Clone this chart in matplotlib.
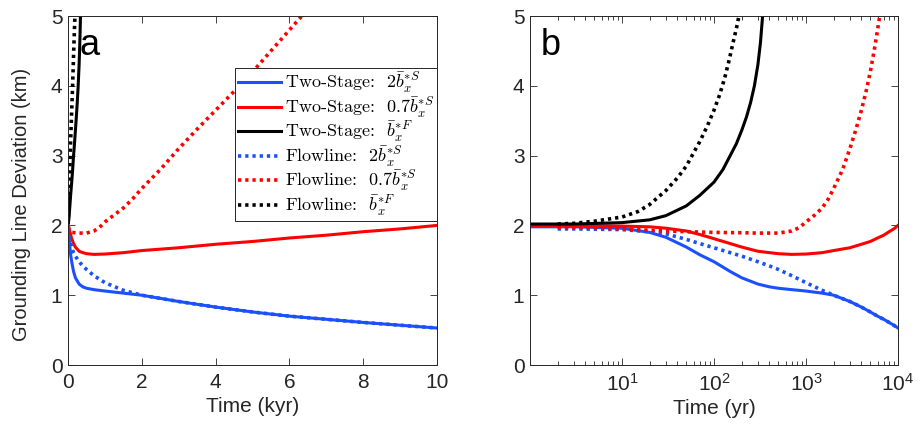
"""
Grounding line deviation: two-stage model vs flowline model,
linear time (kyr) on the left, log time (yr) on the right.
"""

import matplotlib
matplotlib.use("Agg")
import matplotlib.pyplot as plt

plt.rcParams["font.family"] = ["Liberation Sans", "DejaVu Sans"]
plt.rcParams["mathtext.fontset"] = "cm"

# time axes (yr)
t_main = [1, 3, 10, 20, 30, 50, 70, 100, 150, 200, 300, 400, 500, 700,
          1000, 1500, 2000, 3000, 4000, 5000, 6000, 7000, 8000, 9000, 10000]
t_flow = [2, 3, 10, 20, 30, 50, 70, 100, 150, 200, 300, 400, 500, 700,
          1000, 1500, 2000, 3000, 4000, 5000, 6000, 7000, 8000, 9000, 10000]
t_ts_black = [1, 3, 10, 20, 30, 50, 70, 100, 125, 150, 175, 200, 225, 250,
              275, 300, 320, 340]
t_fl_black = [2, 3, 5, 10, 15, 20, 30, 40, 50, 70, 85, 100, 115, 130, 145,
              160, 175, 190]
t_fl_red = [2, 3, 10, 20, 30, 50, 70, 100, 200, 300, 500, 700, 850,
            1000, 1250, 1500, 1750, 2000, 2500, 3000, 3500, 4000, 4500,
            5000, 5500, 6000, 6500]

# grounding line deviation (km)
ts_blue = [1.98, 1.98, 1.96, 1.90, 1.83, 1.69, 1.58, 1.48, 1.34, 1.25, 1.16, 1.12,
           1.10, 1.08, 1.06, 1.03, 1.00, 0.91, 0.83, 0.76, 0.70, 0.655, 0.61, 0.57, 0.53]
ts_red = [2.00, 2.00, 1.99, 1.98, 1.96, 1.92, 1.87, 1.81, 1.74, 1.69, 1.63, 1.61,
          1.595, 1.585, 1.59, 1.61, 1.64, 1.68, 1.73, 1.77, 1.82, 1.86, 1.91, 1.95, 2.00]
ts_black = [2.02, 2.02, 2.04, 2.08, 2.14, 2.28, 2.43, 2.62, 2.80, 3.00, 3.17, 3.36,
            3.55, 3.76, 4.00, 4.30, 4.62, 5.05]
fl_blue = [1.95, 1.95, 1.94, 1.91, 1.88, 1.80, 1.74, 1.68, 1.61, 1.56, 1.48, 1.42,
           1.37, 1.28, 1.18, 1.07, 1.00, 0.91, 0.83, 0.76, 0.70, 0.655, 0.61, 0.57, 0.53]
fl_red = [1.97, 1.97, 1.95, 1.93, 1.92, 1.91, 1.905, 1.90, 1.895, 1.89, 1.89, 1.92,
          1.97, 2.05, 2.15, 2.25, 2.38, 2.53, 2.80, 3.10, 3.38, 3.65, 3.92,
          4.20, 4.50, 4.80, 5.10]
fl_black = [2.02, 2.03, 2.06, 2.12, 2.20, 2.30, 2.50, 2.68, 2.85, 3.20, 3.43, 3.65,
            3.87, 4.10, 4.35, 4.60, 4.82, 5.05]

labels = [
    r"Two-Stage:  $2\bar{b}_x^{*S}$",
    r"Two-Stage:  $0.7\bar{b}_x^{*S}$",
    r"Two-Stage:  $\bar{b}_x^{*F}$",
    r"Flowline:  $2\bar{b}_x^{*S}$",
    r"Flowline:  $0.7\bar{b}_x^{*S}$",
    r"Flowline:  $\bar{b}_x^{*F}$",
]

BLUE = "#1a50ff"
RED = "#ff0000"
BLACK = "#000000"
DOT = (0, (0.9, 1.1))
INK = "#262626"

series = [
    (t_main, ts_blue, BLUE, "-"),
    (t_main, ts_red, RED, "-"),
    (t_ts_black, ts_black, BLACK, "-"),
    (t_flow, fl_blue, BLUE, DOT),
    (t_fl_red, fl_red, RED, DOT),
    (t_fl_black, fl_black, BLACK, DOT),
]

fig = plt.figure(figsize=(9.23, 4.33), dpi=100)
ax1 = fig.add_axes([0.0737, 0.157, 0.3998, 0.806])
ax2 = fig.add_axes([0.5742, 0.157, 0.3987, 0.806])

for (t, y, c, ls), lab in zip(series, labels):
    lw = 2.2 if ls == "-" else 2.6
    ax1.plot([v / 1000 for v in t], y, color=c, ls=ls, lw=lw, label=lab)
    ax2.plot(t, y, color=c, ls=ls, lw=lw)

ax1.set_xlim(0, 10)
ax1.set_xticks([0, 2, 4, 6, 8, 10])
ax1.set_xlabel("Time (kyr)", fontsize=15, color=INK, labelpad=3)
ax1.set_ylabel("Grounding Line Deviation (km)", fontsize=14.5, color=INK)
ax1.yaxis.set_label_coords(-0.1, 0.46)

ax2.set_xscale("log")
ax2.set_xlim(1, 1e4)
ax2.set_xticks([10, 100, 1000, 10000])
ax2.set_xticklabels([r"$\mathdefault{10^{1}}$", r"$\mathdefault{10^{2}}$",
                     r"$\mathdefault{10^{3}}$", r"$\mathdefault{10^{4}}$"])
ax2.set_xlabel("Time (yr)", fontsize=15, color=INK, labelpad=3)

for ax, tag in ((ax1, "a"), (ax2, "b")):
    ax.set_ylim(0, 5)
    ax.set_yticks([0, 1, 2, 3, 4, 5])
    ax.tick_params(direction="in", top=True, right=True, length=5, width=0.6,
                   labelsize=15, colors=INK)
    ax.tick_params(axis="x", pad=6)
    ax.tick_params(axis="y", pad=4)
    ax.tick_params(which="minor", direction="in", top=True, length=3, width=0.6, colors=INK)
    for sp in ax.spines.values():
        sp.set_color(INK)
        sp.set_linewidth(0.7)
    ax.text(0.03, 0.965, tag, transform=ax.transAxes, fontsize=26, va="top", ha="left")

leg = ax1.legend(loc="upper right", bbox_to_anchor=(1.0, 0.851), borderaxespad=0,
                 prop={"family": "cmr10", "size": 13}, handlelength=2.4,
                 handletextpad=0.2, labelspacing=0.0, borderpad=0.15,
                 fancybox=False, framealpha=1)
leg.get_frame().set_edgecolor(INK)
leg.get_frame().set_linewidth(0.7)

fig.savefig("out.png", dpi=100)
